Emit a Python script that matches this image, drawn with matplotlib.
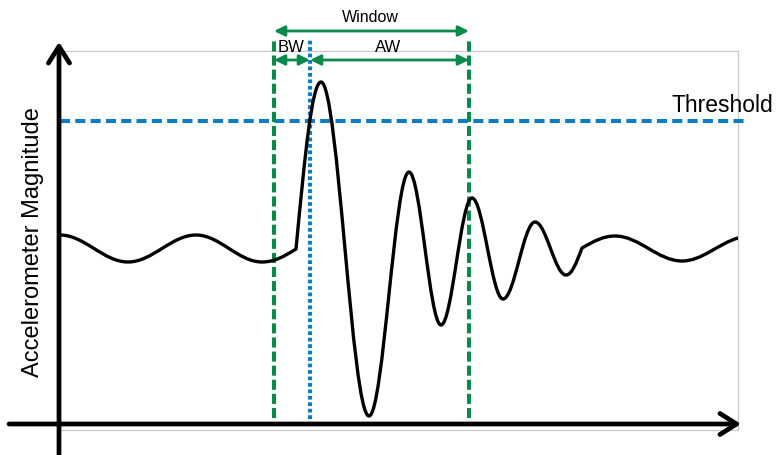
import matplotlib
matplotlib.use("Agg")
import matplotlib.pyplot as plt
from matplotlib.path import Path
from matplotlib.patches import PathPatch

# Turning points of the accelerometer trace (time, magnitude)
trace_t = [0, 68, 136, 202, 236, 261, 309, 349, 381, 412, 443, 475, 506, 522, 555, 622, 678]
trace_mag = [195, 168, 195, 168, 181, 348, 14, 258, 105, 232, 131, 208, 155, 182, 194, 169, 192]
# local slope arriving at / leaving each point (0 at peaks and troughs)
slope_in = [0, 0, 0, 0, 0.63, 0, 0, 0, 0, 0, 0, 0, 0, 2.65, 0, 0, 0.29]
slope_out = [0, 0, 0, 0, 10.5, 0, 0, 0, 0, 0, 0, 0, 0, 0.57, 0, 0, 0]

threshold = 309
window_start = 214
trigger_t = 250
window_end = 409

GREEN = "#0A8A4A"
BLUE = "#0C7CC4"
FONT = "Liberation Sans"

fig = plt.figure(figsize=(7.76, 4.56), dpi=100)
ax = fig.add_axes([60 / 776, 25 / 456, 678 / 776, 379 / 456])
ax.set_xlim(0, 678)
ax.set_ylim(0, 379)
ax.set_xticks([])
ax.set_yticks([])
for side in ("top", "right", "bottom", "left"):
    ax.spines[side].set_color("#C8C8C8")
    ax.spines[side].set_linewidth(0.9)

# smooth trace: cubic segments between turning points
verts = [(trace_t[0], trace_mag[0])]
codes = [Path.MOVETO]
for i in range(len(trace_t) - 1):
    h = 0.36 * (trace_t[i + 1] - trace_t[i])
    verts.append((trace_t[i] + h, trace_mag[i] + h * slope_out[i]))
    verts.append((trace_t[i + 1] - h, trace_mag[i + 1] - h * slope_in[i + 1]))
    verts.append((trace_t[i + 1], trace_mag[i + 1]))
    codes += [Path.CURVE4] * 3
ax.add_patch(PathPatch(Path(verts, codes), facecolor="none", edgecolor="black",
                       lw=2.4, zorder=4, capstyle="round", joinstyle="round"))

# threshold line
ax.plot([0, 688], [threshold, threshold], color=BLUE, lw=2.9,
        dashes=(2.5, 1.3), solid_capstyle="butt", dash_capstyle="butt",
        clip_on=False, zorder=3)
ax.text(713, 325, "Threshold", fontsize=16.5, family=FONT, ha="right",
        va="center", clip_on=False)

# window boundaries and trigger instant
for xv in (window_start, window_end):
    ax.plot([xv, xv], [12, 392], color=GREEN, lw=2.9, dashes=(2.5, 1.0),
            dash_capstyle="butt", clip_on=False, zorder=3)
ax.plot([trigger_t, trigger_t], [11, 391], color=BLUE, lw=3.0, dashes=(0.9, 0.65),
        dash_capstyle="butt", clip_on=False, zorder=3)

# span arrows
span_style = dict(arrowstyle="<|-|>,head_length=0.45,head_width=0.22", color=GREEN,
                  lw=2.0, mutation_scale=14, shrinkA=0, shrinkB=0)
ax.annotate("", xy=(window_end, 399), xytext=(window_start, 399),
            arrowprops=span_style, annotation_clip=False)
ax.annotate("", xy=(trigger_t, 370), xytext=(window_start, 370),
            arrowprops=span_style, annotation_clip=False)
ax.annotate("", xy=(window_end, 370), xytext=(trigger_t, 370),
            arrowprops=span_style, annotation_clip=False)
ax.text(310, 414, "Window", fontsize=11.5, family=FONT, ha="center", va="center",
        clip_on=False)
ax.text(231, 383, "BW", fontsize=12, family=FONT, ha="center", va="center",
        clip_on=False)
ax.text(328, 383, "AW", fontsize=12, family=FONT, ha="center", va="center",
        clip_on=False)

# coordinate axes drawn as arrows
axis_style = dict(arrowstyle="->,head_length=0.6,head_width=0.38", color="black",
                  lw=3.4, mutation_scale=20, shrinkA=0, shrinkB=0)
ax.annotate("", xy=(681, 6), xytext=(-51, 6), arrowprops=axis_style,
            annotation_clip=False)
ax.annotate("", xy=(-1, 388), xytext=(-1, -26), arrowprops=axis_style,
            annotation_clip=False)

fig.text(33 / 776, 1 - 242 / 456, "Accelerometer Magnitude", rotation=90,
         fontsize=17, family=FONT, ha="center", va="center")

fig.savefig("out.png", dpi=100)
